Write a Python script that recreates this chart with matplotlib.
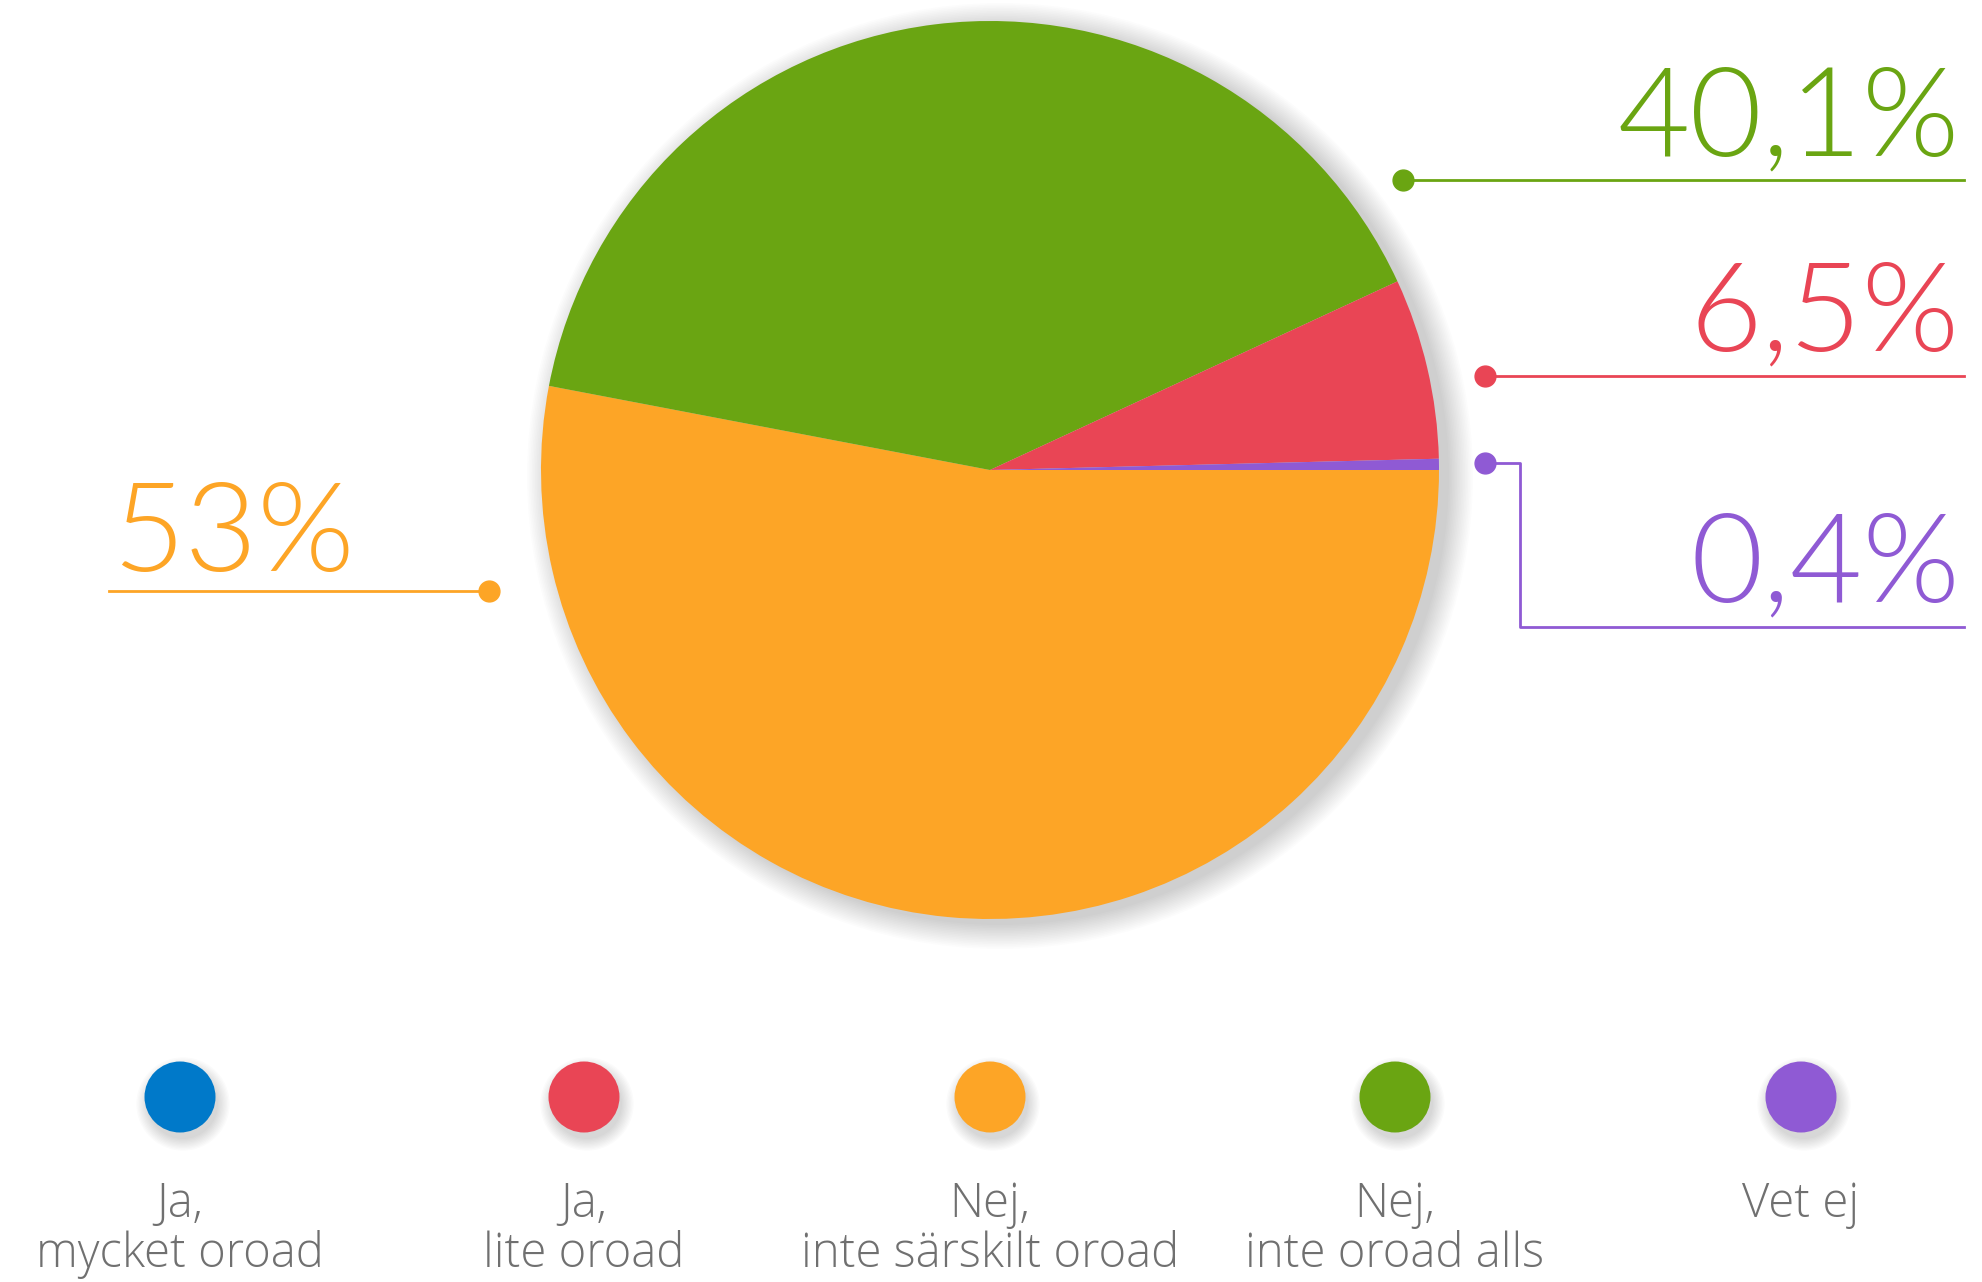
import matplotlib.pyplot as plt
from matplotlib import font_manager
from matplotlib.font_manager import FontProperties
from matplotlib.patches import Circle

# data
categories = [["Ja,", "mycket oroad"], ["Ja,", "lite oroad"],
              ["Nej,", "inte särskilt oroad"], ["Nej,", "inte oroad alls"], ["Vet ej"]]
shares = [0.0, 6.5, 53.0, 40.1, 0.4]
labels = ["0%", "6,5%", "53%", "40,1%", "0,4%"]
colors = ["#0079C9", "#E94555", "#FDA526", "#6AA512", "#8F5AD4"]

# slice drawing order, clockwise from east
pie_order = [2, 3, 1, 4]


def find_font(names, family, weight):
    files = font_manager.findSystemFonts()
    for n in names:
        for f in files:
            if f.split("/")[-1].lower() == n.lower():
                return FontProperties(fname=f)
    return FontProperties(family=family, weight=weight)


W, H = 1983, 1282
fig = plt.figure(figsize=(W / 100, H / 100), dpi=100)
ax = fig.add_axes([0, 0, 1, 1])

cx, cy, r = 990, 470, 449

# soft shadow behind the pie
for i in range(16):
    ax.add_patch(Circle((cx + 10, cy + 6), r + 1.6 * i, color="black",
                        alpha=0.011, lw=0, zorder=1))

ax.pie([shares[i] for i in pie_order], colors=[colors[i] for i in pie_order],
       startangle=0, counterclock=True, center=(cx, cy), radius=r,
       wedgeprops=dict(linewidth=0, zorder=2), frame=True)
ax.set_xlim(0, W)
ax.set_ylim(H, 0)
ax.set_aspect("equal")
ax.axis("off")

pct_fp = find_font(["Lato-Light.ttf", "Lato-Light.otf"], "Lato", "normal")
pct_fp.set_size(90)
leg_fp = find_font(["OpenSans-Light.ttf", "OpenSans-Light.otf"], "Open Sans", "normal")
leg_fp.set_size(34)

lw = 2.0
ms = 15

# 40,1%
c = colors[3]
ax.plot([1403, 1964], [180, 180], color=c, lw=lw, zorder=3)
ax.plot(1403, 180, "o", color=c, ms=ms, zorder=4)
ax.text(1960, 155, labels[3], color=c, ha="right", va="baseline", fontproperties=pct_fp)

# 6,5%
c = colors[1]
ax.plot([1485, 1964], [376, 376], color=c, lw=lw, zorder=3)
ax.plot(1485, 376, "o", color=c, ms=ms, zorder=4)
ax.text(1960, 350, labels[1], color=c, ha="right", va="baseline", fontproperties=pct_fp)

# 0,4%
c = colors[4]
ax.plot([1485, 1520, 1520, 1964], [463, 463, 627, 627], color=c, lw=lw, zorder=3)
ax.plot(1485, 463, "o", color=c, ms=ms, zorder=4)
ax.text(1960, 601, labels[4], color=c, ha="right", va="baseline", fontproperties=pct_fp)

# 53%
c = colors[2]
ax.plot([109, 489], [591, 591], color=c, lw=lw, zorder=3)
ax.plot(489, 591, "o", color=c, ms=ms, zorder=4)
ax.text(112, 571, labels[2], color=c, ha="left", va="baseline", fontproperties=pct_fp)

# legend
leg_x = [180, 584, 990, 1395, 1801]
leg_y = 1097
for x, lines, col in zip(leg_x, categories, colors):
    for i in range(10):
        ax.add_patch(Circle((x + 3, leg_y + 7), 35 + 1.3 * i, color="black",
                            alpha=0.014, lw=0, zorder=1))
    ax.add_patch(Circle((x, leg_y), 35.5, color=col, lw=0, zorder=2))
    for k, line in enumerate(lines):
        ax.text(x, 1217 + 50 * k, line, ha="center", va="baseline", color="#707070",
                fontproperties=leg_fp)

fig.savefig("out.png", dpi=100, facecolor="white")
